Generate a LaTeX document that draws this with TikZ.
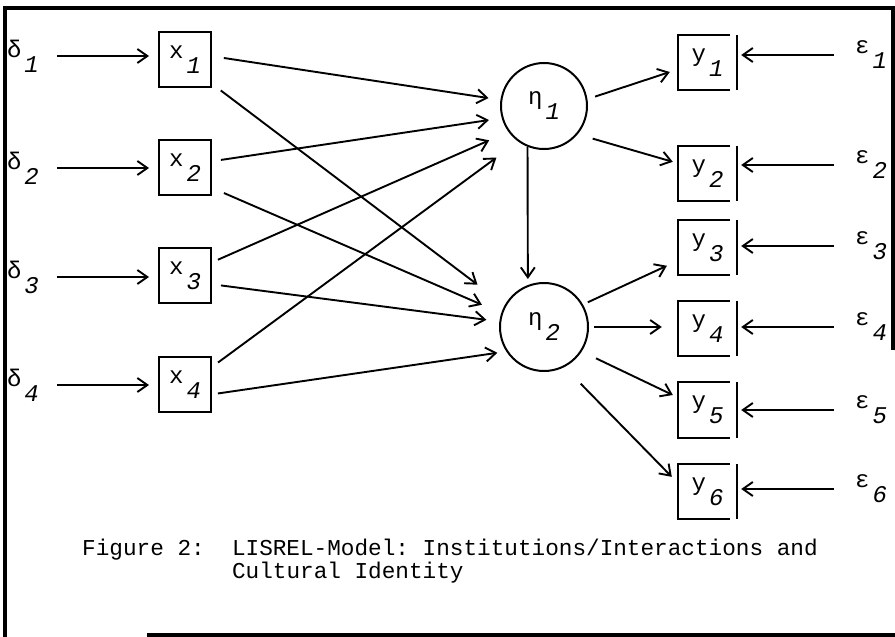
\documentclass[tikz,border=0pt]{standalone}
\usepackage{fontspec}
\setmonofont{Liberation Mono}
\usepackage{tikz}
\usetikzlibrary{arrows.meta}

\newcommand{\subidx}[2]{#1\hspace{3pt}\raisebox{-15pt}{\itshape #2}}

\begin{document}
\begin{tikzpicture}[
  x=1pt, y=-1pt,
  font=\ttfamily\fontsize{24}{28}\selectfont,
  >={Straight Barb[length=10pt, width=14pt]},
  xbox/.style={draw, line width=2pt, minimum width=52pt, minimum height=55pt, inner sep=0pt},
  ybox/.style={minimum width=59pt, minimum height=55pt, inner sep=0pt},
  latent/.style={circle, draw, line width=2pt, minimum size=86pt, inner sep=0pt},
  err/.style={inner sep=0pt},
  arr/.style={->, line width=1.9pt},
  edge/.style={line width=2pt},
  frame/.style={line width=3.4pt},
  caption/.style={font=\ttfamily\fontsize{22.7}{23}\selectfont, align=left, anchor=west, inner sep=0pt},
]
\useasboundingbox (0,0) rectangle (895,637);

\node[err] (d1) at (23,56) {\subidx{δ}{1}};
\node[err] (d2) at (23,168) {\subidx{δ}{2}};
\node[err] (d3) at (23,277) {\subidx{δ}{3}};
\node[err] (d4) at (23,385) {\subidx{δ}{4}};

\node[xbox] (x1) at (185,59.5) {\subidx{x}{1}};
\node[xbox] (x2) at (185,167.5) {\subidx{x}{2}};
\node[xbox] (x3) at (185,275.5) {\subidx{x}{3}};
\node[xbox] (x4) at (185,384.5) {\subidx{x}{4}};

\node[latent] (eta1) at (544,106) {\subidx{η}{1}};
\node[latent, minimum size=88pt] (eta2) at (544,327) {\subidx{η}{2}};

\node[ybox] (y1) at (707.5,62.5) {\subidx{y}{1}};
\node[ybox] (y2) at (707.5,173.5) {\subidx{y}{2}};
\node[ybox] (y3) at (707.5,247.5) {\subidx{y}{3}};
\node[ybox] (y4) at (707.5,328.5) {\subidx{y}{4}};
\node[ybox] (y5) at (707.5,410) {\subidx{y}{5}};
\node[ybox] (y6) at (707.5,491.5) {\subidx{y}{6}};

\node[err] (e1) at (871,55) {\subidx{ε}{1}};
\node[err] (e2) at (871,165) {\subidx{ε}{2}};
\node[err] (e3) at (871,246) {\subidx{ε}{3}};
\node[err] (e4) at (871,327) {\subidx{ε}{4}};
\node[err] (e5) at (871,410) {\subidx{ε}{5}};
\node[err] (e6) at (871,489) {\subidx{ε}{6}};

\node[caption] (cap) at (82,561)
  {Figure 2:~~LISREL-Model: Institutions/Interactions and\\\phantom{Figure 2:~~}Cultural Identity};

\draw[edge] ([xshift=-7pt]y1.north east) -- (y1.north west) -- (y1.south west) -- ([xshift=-7pt]y1.south east);
\draw[edge] ([xshift=-7pt]y2.north east) -- (y2.north west) -- (y2.south west) -- ([xshift=-7pt]y2.south east);
\draw[edge] ([xshift=-7pt]y3.north east) -- (y3.north west) -- (y3.south west) -- ([xshift=-7pt]y3.south east);
\draw[edge] ([xshift=-7pt]y4.north east) -- (y4.north west) -- (y4.south west) -- ([xshift=-7pt]y4.south east);
\draw[edge] ([xshift=-7pt]y5.north east) -- (y5.north west) -- (y5.south west) -- ([xshift=-7pt]y5.south east);
\draw[edge] ([xshift=-7pt]y6.north east) -- (y6.north west) -- (y6.south west) -- ([xshift=-7pt]y6.south east);
\draw[edge] (y1.north east) -- (y1.south east);
\draw[edge] (y2.north east) -- (y2.south east);
\draw[edge] (y3.north east) -- (y3.south east);
\draw[edge] (y4.north east) -- (y4.south east);
\draw[edge] (y5.north east) -- (y5.south east);
\draw[edge] (y6.north east) -- (y6.south east);

\draw[arr, shorten <=18pt, shorten >=9pt] (d1) -- (d1 -| x1.west);
\draw[arr, shorten <=18pt, shorten >=9pt] (d2) -- (d2 -| x2.west);
\draw[arr, shorten <=18pt, shorten >=9pt] (d3) -- (d3 -| x3.west);
\draw[arr, shorten <=18pt, shorten >=9pt] (d4) -- (d4 -| x4.west);

\draw[arr, shorten <=12pt, shorten >=12pt] (x1.7) -- (eta1.172);
\draw[arr, shorten <=9pt, shorten >=13pt] (x2.13) -- (eta1.196);
\draw[arr, shorten <=6.5pt, shorten >=21pt] (x3.26) -- (eta1.216);
\draw[arr, shorten <=7.5pt, shorten >=27pt] (x4.33) -- (eta1.234);
\draw[arr, shorten <=11pt, shorten >=34pt] (x1.-42) -- (eta2.151);
\draw[arr, shorten <=13pt, shorten >=21pt] (x2.-37) -- (eta2.162);
\draw[arr, shorten <=9pt, shorten >=13pt] (x3.-18) -- (eta2.173);
\draw[arr, shorten <=6pt, shorten >=9pt] (x4.-20) -- (eta2.213);

\draw[arr, shorten >=6pt] (eta1.248) -- (eta2.111);

\draw[arr, shorten <=8pt, shorten >=8.4pt] (eta1.9) -- (y1.193);
\draw[arr, shorten <=15.6pt, shorten >=5.2pt] (eta1.-40) -- (y2.161);
\draw[arr, shorten <=5.3pt, shorten >=12pt] (eta2.30) -- (y3.204);
\draw[arr, shorten <=5pt, shorten >=16pt] (eta2.east) -- (eta2.east -| y4.west);
\draw[arr, shorten <=15.8pt, shorten >=5.5pt] (eta2.-33) -- (y5.157);
\draw[arr, shorten <=23.3pt, shorten >=8.6pt] (eta2.-63) -- (y6.164);

\draw[arr, shorten <=21pt, shorten >=4pt] (e1) -- (e1 -| y1.east);
\draw[arr, shorten <=21pt, shorten >=4pt] (e2) -- (e2 -| y2.east);
\draw[arr, shorten <=21pt, shorten >=4pt] (e3) -- (e3 -| y3.east);
\draw[arr, shorten <=21pt, shorten >=4pt] (e4) -- (e4 -| y4.east);
\draw[arr, shorten <=21pt, shorten >=4pt] (e5) -- (e5 -| y5.east);
\draw[arr, shorten <=21pt, shorten >=4pt] (e6) -- (e6 -| y6.east);

\draw[frame] (5,637) -- (5,8) -- (893,8) -- (893,350);
\draw[frame] (147,635) -- (895,635);
\end{tikzpicture}
\end{document}
